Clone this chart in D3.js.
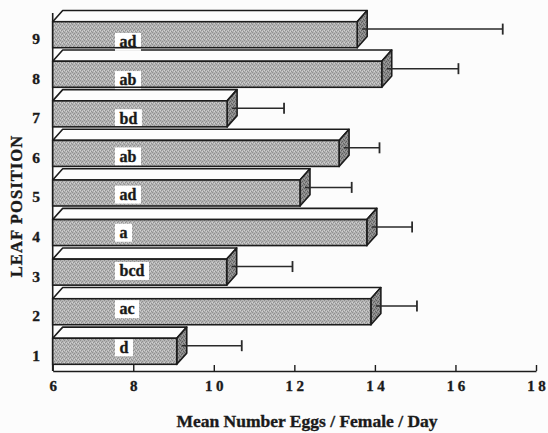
<!DOCTYPE html>
<html>
<head>
<meta charset="utf-8">
<script src="https://cdn.jsdelivr.net/npm/d3@7"></script>
<style>
  html, body { margin: 0; padding: 0; background: #fcfcfc; }
  svg { display: block; }
  text { font-family: "Liberation Serif", "Times New Roman", serif; font-weight: bold; fill: #1a1a1a; stroke: #1a1a1a; stroke-width: 0.35px; }
</style>
</head>
<body>
<svg id="chart" width="548" height="433"></svg>
<script>
// ---- data ----
const positions = [1, 2, 3, 4, 5, 6, 7, 8, 9];
const means     = [9.08, 13.90, 10.32, 13.80, 12.14, 13.11, 10.33, 14.17, 13.56];
const errors    = [1.49, 1.02, 1.51, 1.00, 1.16, 0.88, 1.29, 1.78, 3.49];
const letters   = ["d", "ac", "bcd", "a", "ad", "ab", "bd", "ab", "ad"];
const xTicks    = [6, 8, 10, 12, 14, 16, 18];
const xTitle    = "Mean Number Eggs / Female / Day";
const yTitle    = "LEAF POSITION";

const rows = positions.map((p, i) => ({ pos: p, mean: means[i], err: errors[i], letter: letters[i] }));

const svg = d3.select("#chart");

const x = d3.scaleLinear().domain([6, 18]).range([52.7, 536]);
const y = d3.scaleBand().domain(positions.slice().reverse()).range([21.7, 364.3]).paddingInner(0.343).paddingOuter(0);

const DX = 10, DY = -11.2;   // 3-D depth offset
const axisY = 371;

// stipple patterns
const defs = svg.append("defs");
function stipple(id, base, dark, light) {
  const p = defs.append("pattern").attr("id", id).attr("patternUnits", "userSpaceOnUse")
    .attr("width", 4).attr("height", 4);
  p.append("rect").attr("width", 4).attr("height", 4).attr("fill", base);
  [[0,0],[2,1],[1,2],[3,3]].forEach(([a,b]) => p.append("rect").attr("x", a).attr("y", b).attr("width", 1).attr("height", 1).attr("fill", dark));
  [[2,3],[0,2]].forEach(([a,b]) => p.append("rect").attr("x", a).attr("y", b).attr("width", 1).attr("height", 1).attr("fill", light));
}
stipple("front", "#b4b4b4", "#909090", "#d2d2d2");
stipple("side", "#8a8a8a", "#606060", "#a4a4a4");

const stroke = "#1c1c1c";

// axes lines
svg.append("line").attr("x1", x(6)).attr("x2", x(6)).attr("y1", 13).attr("y2", axisY)
  .attr("stroke", stroke).attr("stroke-width", 1.6);

const xAxis = d3.axisBottom(x).tickValues(xTicks).tickSize(-6).tickSizeOuter(0).tickPadding(9.5).tickFormat(d3.format("d"));
const gx = svg.append("g").attr("transform", `translate(0,${axisY})`).call(xAxis);
gx.select(".domain").attr("stroke", stroke).attr("stroke-width", 1.6);
gx.selectAll(".tick line").attr("stroke", stroke).attr("stroke-width", 1.4);
gx.selectAll(".tick text").attr("font-size", 15).style("letter-spacing", "3.5px").attr("dx", 1.75)
  .style("font-family", '"Liberation Serif", serif').style("font-weight", "bold").attr("fill", "#1a1a1a");

// bars
const g = svg.append("g");
rows.forEach(r => {
  const x0 = x(6), x1 = x(r.mean);
  const yt = y(r.pos), yb = yt + y.bandwidth();
  const bg = g.append("g");
  // top face
  bg.append("polygon")
    .attr("points", [[x0, yt], [x0 + DX, yt + DY], [x1 + DX, yt + DY], [x1, yt]].map(p => p.join(",")).join(" "))
    .attr("fill", "#fdfdfd").attr("stroke", stroke).attr("stroke-width", 1.6).attr("stroke-linejoin", "round");
  // side face
  bg.append("polygon")
    .attr("points", [[x1, yt], [x1 + DX, yt + DY], [x1 + DX, yb + DY], [x1, yb]].map(p => p.join(",")).join(" "))
    .attr("fill", "url(#side)").attr("stroke", stroke).attr("stroke-width", 1.6).attr("stroke-linejoin", "round");
  // front face fill
  bg.append("rect").attr("x", x0).attr("y", yt).attr("width", x1 - x0).attr("height", yb - yt)
    .attr("fill", "url(#front)");
  // letter label
  const cy = yt + y.bandwidth() / 2 - 4 + (r.pos - 1) * 1.4;
  const t = bg.append("text").attr("x", 119.5).attr("y", cy).attr("dy", "0.33em")
    .attr("font-size", 16).text(r.letter);
  const bb = t.node().getBBox();
  bg.insert("rect", "text").attr("x", bb.x - 4.5).attr("y", cy - 9).attr("width", bb.width + 9).attr("height", 18)
    .attr("fill", "#ffffff");
  // front outline
  bg.append("rect").attr("x", x0).attr("y", yt).attr("width", x1 - x0).attr("height", yb - yt)
    .attr("fill", "none").attr("stroke", stroke).attr("stroke-width", 1.6);
  // error bar
  const ey = yt + y.bandwidth() / 2 + DY / 2;
  const ex0 = x1 + DX / 2, ex1 = x(r.mean + r.err) + DX / 2;
  bg.append("line").attr("x1", ex0).attr("x2", ex1).attr("y1", ey).attr("y2", ey)
    .attr("stroke", "#2a2a2a").attr("stroke-width", 1.5);
  bg.append("line").attr("x1", ex1).attr("x2", ex1).attr("y1", ey - 5.5).attr("y2", ey + 5.5)
    .attr("stroke", "#2a2a2a").attr("stroke-width", 1.8);
});

// y tick labels
svg.append("g").selectAll("text").data(positions).join("text")
  .attr("x", 36).attr("y", d => y(d) + y.bandwidth() / 2 + 4).attr("dy", "0.35em")
  .attr("text-anchor", "middle").attr("font-size", 15.5).text(d => d);

// titles
svg.append("text").attr("x", 307).attr("y", 426.5).attr("text-anchor", "middle")
  .attr("font-size", 17.5).text(xTitle);
svg.append("text").attr("transform", "translate(21.5,206) rotate(-90)").attr("text-anchor", "middle")
  .attr("font-size", 16.5).style("letter-spacing", "1.1px").text(yTitle);
</script>
</body>
</html>
